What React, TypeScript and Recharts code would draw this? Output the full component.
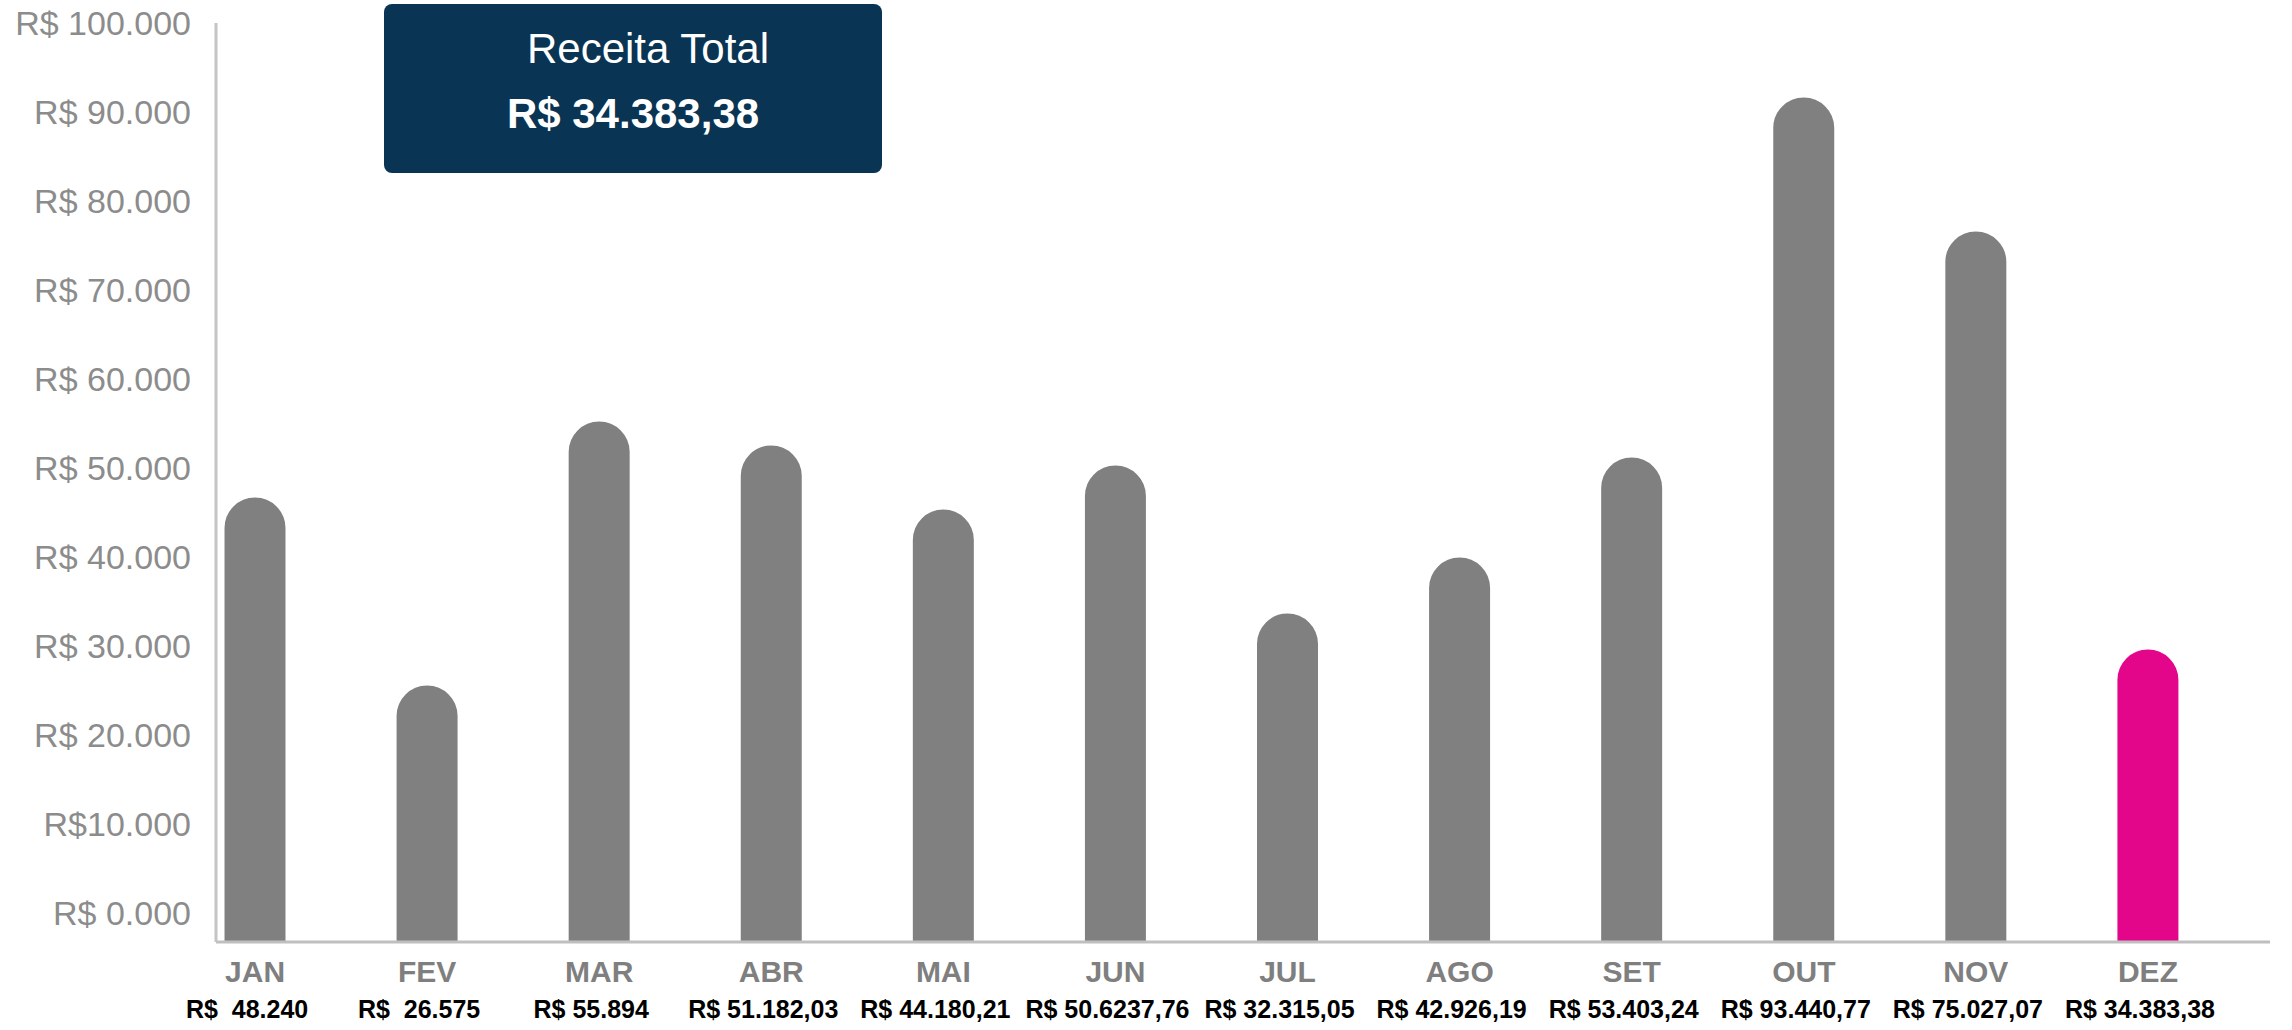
import React from 'react';
import { BarChart, Bar, XAxis, YAxis, Cell } from 'recharts';

const months = ['JAN', 'FEV', 'MAR', 'ABR', 'MAI', 'JUN', 'JUL', 'AGO', 'SET', 'OUT', 'NOV', 'DEZ'];
const revenue = [46850, 25730, 55390, 52700, 45510, 50450, 33820, 40110, 51350, 91800, 76740, 29780];
const valueLabels = [
  'R$  48.240',
  'R$  26.575',
  'R$ 55.894',
  'R$ 51.182,03',
  'R$ 44.180,21',
  'R$ 50.6237,76',
  'R$ 32.315,05',
  'R$ 42.926,19',
  'R$ 53.403,24',
  'R$ 93.440,77',
  'R$ 75.027,07',
  'R$ 34.383,38',
];
const yTicks = [0, 10000, 20000, 30000, 40000, 50000, 60000, 70000, 80000, 90000, 100000];
const yTickLabels = [
  'R$ 0.000',
  'R$10.000',
  'R$ 20.000',
  'R$ 30.000',
  'R$ 40.000',
  'R$ 50.000',
  'R$ 60.000',
  'R$ 70.000',
  'R$ 80.000',
  'R$ 90.000',
  'R$ 100.000',
];
const highlightMonth = 'DEZ';
const titleLabel = 'Receita Total';
const totalLabel = 'R$ 34.383,38';

const data = months.map((m, i) => ({ month: m, value: revenue[i], label: valueLabels[i] }));

const SANS = "'Liberation Sans', Arial, sans-serif";

function RoundedBar(props: any) {
  const { x, y, width, height, fill, background } = props;
  if (width == null || y == null) return null;
  const bottom =
    background && background.height ? background.y + background.height + 2 : y + height;
  const r = width / 2;
  const d = `M${x},${bottom} L${x},${y + r} A${r},${r} 0 0 1 ${x + width},${y + r} L${x + width},${bottom} Z`;
  return <path d={d} fill={fill} stroke="#ffffff" strokeWidth={3} />;
}

function YTick(props: any) {
  const { x, y, payload } = props;
  const idx = yTicks.indexOf(payload.value);
  const text = idx >= 0 ? yTickLabels[idx] : String(payload.value);
  return (
    <text
      x={x}
      y={y}
      dy="0.36em"
      textAnchor="end"
      fill="#8c8c8c"
      fontSize={34}
      fontFamily={SANS}
      style={{ whiteSpace: 'pre' }}
    >
      {text}
    </text>
  );
}

function XTick(props: any) {
  const { x, y, payload } = props;
  const i = payload.index ?? months.indexOf(payload.value);
  return (
    <g>
      <text
        x={x}
        y={y + 40}
        textAnchor="middle"
        fill="#7f7f7f"
        fontSize={30}
        fontWeight="bold"
        fontFamily={SANS}
      >
        {months[i]}
      </text>
      <text
        x={x - 8}
        y={y + 76}
        textAnchor="middle"
        fill="#000000"
        fontSize={25}
        fontWeight="bold"
        fontFamily={SANS}
        style={{ whiteSpace: 'pre' }}
      >
        {valueLabels[i]}
      </text>
    </g>
  );
}

export default function App() {
  return (
    <div
      style={{
        position: 'absolute',
        left: 0,
        top: 0,
        width: 2292,
        height: 1030,
        background: '#ffffff',
        overflow: 'hidden',
      }}
    >
      <BarChart
        width={2292}
        height={1030}
        data={data}
        margin={{ top: 23, right: 22, left: 0, bottom: 0 }}
        barSize={64}
      >
        <XAxis
          dataKey="month"
          type="category"
          height={88}
          interval={0}
          tickLine={false}
          tickSize={0}
          tickMargin={0}
          axisLine={{ stroke: '#bfbfbf', strokeWidth: 3 }}
          padding={{ left: -47, right: 36 }}
          tick={<XTick />}
        />
        <YAxis
          type="number"
          domain={[0, 100000]}
          ticks={yTicks}
          interval={0}
          width={216}
          tickLine={false}
          tickSize={0}
          tickMargin={25}
          axisLine={{ stroke: '#c4c4c4', strokeWidth: 3 }}
          padding={{ top: 0, bottom: 29 }}
          tick={<YTick />}
        />
        <Bar dataKey="value" isAnimationActive={false} shape={<RoundedBar />}>
          {data.map((d) => (
            <Cell key={d.month} fill={d.month === highlightMonth ? '#e3068a' : '#808080'} />
          ))}
        </Bar>
      </BarChart>
      <div
        style={{
          position: 'absolute',
          left: 384,
          top: 4,
          width: 498,
          height: 169,
          background: '#0a3453',
          borderRadius: 8,
        }}
      >
        <div
          style={{
            position: 'absolute',
            left: 15,
            top: 24,
            width: 498,
            textAlign: 'center',
            color: '#ffffff',
            fontFamily: SANS,
            fontSize: 42,
            lineHeight: '42px',
            whiteSpace: 'nowrap',
          }}
        >
          {titleLabel}
        </div>
        <div
          style={{
            position: 'absolute',
            left: 0,
            top: 89,
            width: 498,
            textAlign: 'center',
            color: '#ffffff',
            fontFamily: SANS,
            fontSize: 42,
            fontWeight: 'bold',
            lineHeight: '42px',
            whiteSpace: 'nowrap',
          }}
        >
          {totalLabel}
        </div>
      </div>
    </div>
  );
}
